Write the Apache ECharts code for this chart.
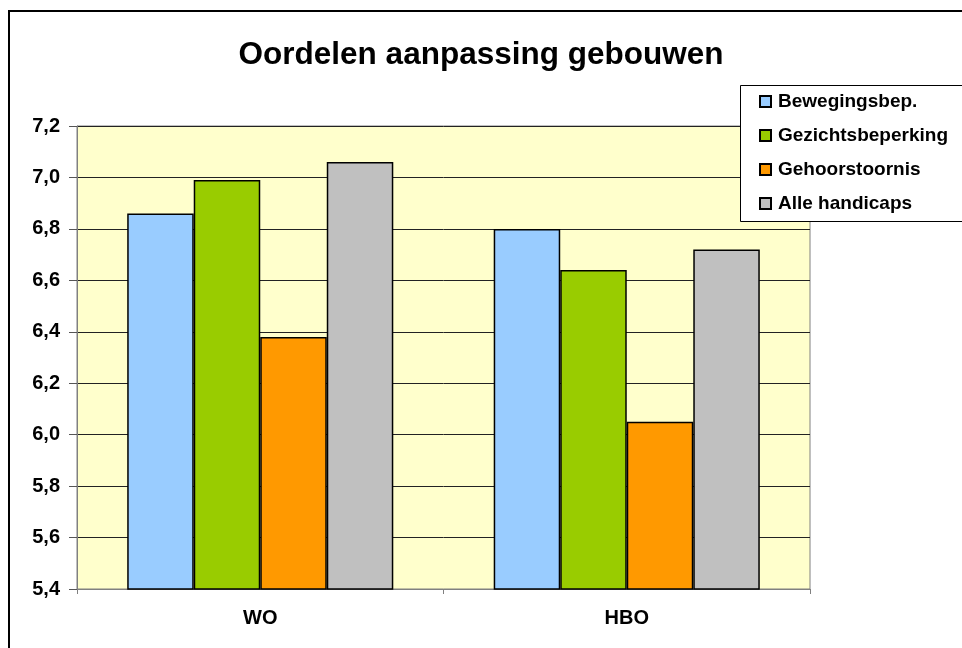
<!DOCTYPE html>
<html>
<head>
<meta charset="utf-8">
<script src="https://cdn.jsdelivr.net/npm/echarts@6/dist/echarts.min.js"></script>
<style>
html,body{margin:0;padding:0;background:#fff;}
#chart{width:962px;height:648px;}
</style>
</head>
<body>
<div id="chart"></div>
<script>
const categories = ['WO', 'HBO'];
const seriesNames = ['Bewegingsbep.', 'Gezichtsbeperking', 'Gehoorstoornis', 'Alle handicaps'];
const bewegingsbep = [6.86, 6.80];
const gezichtsbeperking = [6.99, 6.64];
const gehoorstoornis = [6.38, 6.05];
const alleHandicaps = [7.06, 6.72];
const yTicks = [5.4, 5.6, 5.8, 6.0, 6.2, 6.4, 6.6, 6.8, 7.0, 7.2];

const colors = ['#99CCFF', '#99CC00', '#FF9900', '#C0C0C0'];
const values = [bewegingsbep, gezichtsbeperking, gehoorstoornis, alleHandicaps];
const font = 'Liberation Sans, Arial, sans-serif';

const chart = echarts.init(document.getElementById('chart'));
chart.setOption({
  animation: false,
  backgroundColor: '#fff',
  title: {
    text: 'Oordelen aanpassing gebouwen',
    left: 'center',
    top: 34,
    textStyle: {fontFamily: font, fontWeight: 'bold', fontSize: 31.5, color: '#000'}
  },
  graphic: [
    {type: 'rect', shape: {x: 9, y: 11, width: 1000, height: 1000}, style: {fill: 'none', stroke: '#000', lineWidth: 2}, z: 0},
    {type: 'rect', shape: {x: 740.5, y: 85.5, width: 260, height: 136}, style: {fill: '#fff', stroke: '#000', lineWidth: 1}, z: 5}
  ],
  legend: {
    orient: 'vertical',
    left: 759,
    top: 92,
    padding: 0,
    z: 10,
    itemWidth: 11,
    itemHeight: 11,
    itemGap: 15,
    icon: 'rect',
    textStyle: {fontFamily: font, fontWeight: 'bold', fontSize: 19, color: '#000', lineHeight: 19, padding: [0, 0, 0, 2]},
    data: seriesNames
  },
  grid: {
    left: 77, right: 152, top: 126, bottom: 59,
    show: true, backgroundColor: '#FFFFCC', borderColor: '#808080', borderWidth: 1
  },
  xAxis: {
    type: 'category',
    data: categories,
    axisLine: {lineStyle: {color: '#808080', width: 1}},
    axisTick: {show: true, interval: 0, length: 5, lineStyle: {color: '#808080'}},
    axisLabel: {fontFamily: font, fontWeight: 'bold', fontSize: 20, color: '#000', margin: 19}
  },
  yAxis: {
    type: 'value',
    min: 5.4,
    max: 7.2,
    interval: 0.2,
    axisLine: {show: true, lineStyle: {color: '#808080', width: 1}},
    axisTick: {show: true, length: 8, lineStyle: {color: '#555'}},
    splitLine: {lineStyle: {color: '#222', width: 1}},
    axisLabel: {
      fontFamily: font, fontWeight: 'bold', fontSize: 20, color: '#000', margin: 17,
      formatter: v => v.toFixed(1).replace('.', ',')
    }
  },
  series: seriesNames.map((name, i) => ({
    name: name,
    type: 'bar',
    data: values[i],
    barGap: '0%',
    barCategoryGap: '27.4%',
    itemStyle: {color: colors[i], borderColor: '#000', borderWidth: 1.5}
  }))
});
</script>
</body>
</html>
